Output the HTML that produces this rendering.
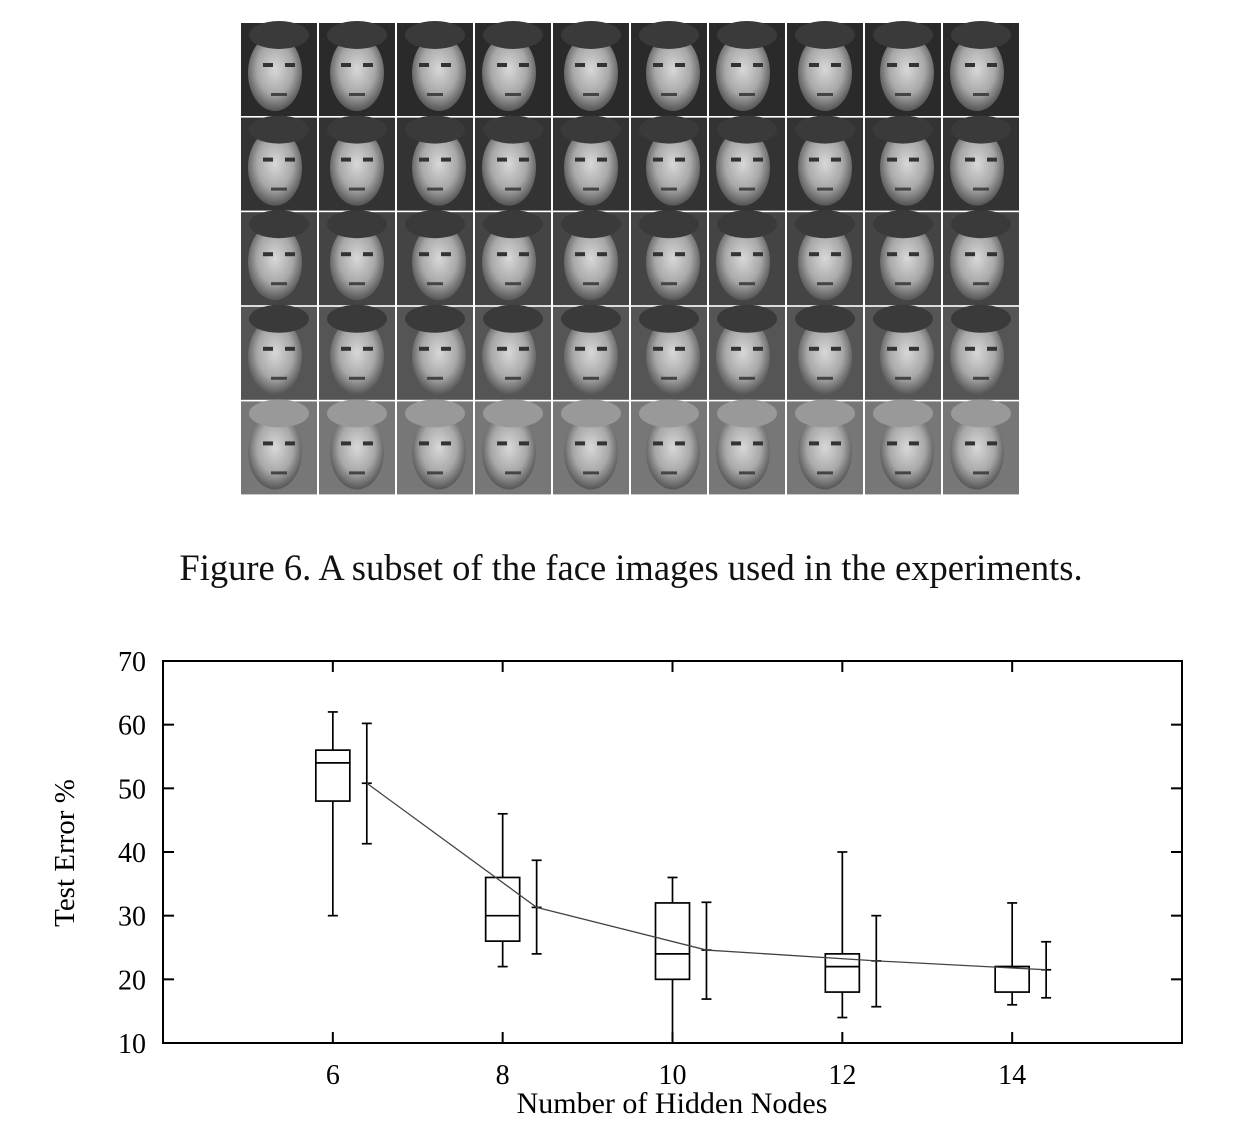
<!DOCTYPE html>
<html><head><meta charset="utf-8"><style>
body{margin:0;background:#fff;width:1241px;height:1142px;overflow:hidden;font-family:"Liberation Serif",serif}
</style></head><body>
<svg width="1241" height="1142" xmlns="http://www.w3.org/2000/svg">
<defs>
<radialGradient id="fg" cx="50%" cy="45%" r="55%"><stop offset="0" stop-color="#d8d8d8"/><stop offset="0.6" stop-color="#a8a8a8"/><stop offset="1" stop-color="#555"/></radialGradient>
</defs>
<g id="faces"></g>
<text x="631" y="580" font-size="36.5" text-anchor="middle" fill="#111">Figure 6.  A subset of the face images used in the experiments.</text>
<g id="chart"></g>
</svg>
<script>
const categories=[6,8,10,12,14];
const whiskerLow=[30,22,10,14,16];
const q1=[48,26,20,18,18];
const medians=[54,30,24,22,22];
const q3=[56,36,32,24,22];
const whiskerHigh=[62,46,36,40,32];
const means=[50.8,31.3,24.6,22.9,21.5];
const errLow=[41.3,24,16.9,15.7,17.1];
const errHigh=[60.2,38.7,32.1,30,25.9];
const yTicks=[10,20,30,40,50,60,70];
const xTicks=[6,8,10,12,14];
const NS='http://www.w3.org/2000/svg';
const X0=163,X1=1182,Y0=1043,Y1=661;
const xs=v=>X0+(v-4)/12*(X1-X0);
const ys=v=>Y0-(v-10)/60*(Y0-Y1);
function mk(p,t,a){const e=document.createElementNS(NS,t);for(const k in a)e.setAttribute(k,a[k]);p.appendChild(e);return e;}
const fg=document.getElementById('faces');
const rowBg=['#2a2a2a','#333','#444','#555','#777'];
for(let r=0;r<5;r++)for(let c=0;c<10;c++){
 const x=241+c*78,y=23+r*94.6;
 const cell=mk(fg,'rect',{x:x,y:y,width:76,height:93,fill:rowBg[r]});
 
 
 const f=mk(fg,'ellipse',{cx:x+38+((c%3)-1)*4,cy:y+50,rx:27,ry:38,fill:'url(#fg)'});
 
 
 mk(fg,'ellipse',{cx:x+38,cy:y+12,rx:30,ry:14,fill:r==4?'#999':'#3a3a3a'});
 mk(fg,'rect',{x:x+22,y:y+40,width:10,height:4,fill:'#333'});
 mk(fg,'rect',{x:x+44,y:y+40,width:10,height:4,fill:'#333'});
 mk(fg,'rect',{x:x+30,y:y+70,width:16,height:3,fill:'#444'});
}
const g=document.getElementById('chart');
const frame=mk(g,'rect',{x:X0,y:Y1,width:X1-X0,height:Y0-Y1,fill:'none',stroke:'#000','stroke-width':2});


yTicks.forEach(v=>{
 const y=ys(v);
 mk(g,'line',{x1:X0,x2:X0+11,y1:y,y2:y,stroke:'#000','stroke-width':2});
 mk(g,'line',{x1:X1-11,x2:X1,y1:y,y2:y,stroke:'#000','stroke-width':2});
 const t=mk(g,'text',{x:146,y:y+10,'font-size':28,'text-anchor':'end'});t.textContent=v;
 
 
});
xTicks.forEach(v=>{
 const x=xs(v);
 mk(g,'line',{x1:x,x2:x,y1:Y0,y2:Y0-11,stroke:'#000','stroke-width':2});
 mk(g,'line',{x1:x,x2:x,y1:Y1,y2:Y1+11,stroke:'#000','stroke-width':2});
 const t=mk(g,'text',{x:x,y:1084,'font-size':28,'text-anchor':'middle'});t.textContent=v;
 
 
});
const yt=mk(g,'text',{x:0,y:0,'font-size':29,'text-anchor':'middle',transform:'translate(74,853) rotate(-90)'});yt.textContent='Test Error %';


const xt=mk(g,'text',{x:672,y:1113,'font-size':30,'text-anchor':'middle'});xt.textContent='Number of Hidden Nodes';


const pts=categories.map((c,i)=>xs(c+0.4)+','+ys(means[i])).join(' ');
const ml=mk(g,'polyline',{points:pts,fill:'none',stroke:'#444','stroke-width':1.3});


categories.forEach((c,i)=>{
 const x=xs(c),bw=17,ex=xs(c+0.4);
 const bg=mk(g,'g',{stroke:'#000','stroke-width':1.7,fill:'none'});
 
 
 mk(bg,'line',{x1:x,x2:x,y1:ys(whiskerLow[i]),y2:ys(q1[i])});
 mk(bg,'line',{x1:x,x2:x,y1:ys(q3[i]),y2:ys(whiskerHigh[i])});
 mk(bg,'line',{x1:x-5,x2:x+5,y1:ys(whiskerLow[i]),y2:ys(whiskerLow[i])});
 mk(bg,'line',{x1:x-5,x2:x+5,y1:ys(whiskerHigh[i]),y2:ys(whiskerHigh[i])});
 mk(bg,'rect',{x:x-bw,y:ys(q3[i]),width:bw*2,height:ys(q1[i])-ys(q3[i]),fill:'#fff'});
 mk(bg,'line',{x1:x-bw,x2:x+bw,y1:ys(medians[i]),y2:ys(medians[i])});
 const eg=mk(g,'g',{stroke:'#000','stroke-width':1.7});
 
 
 mk(eg,'line',{x1:ex,x2:ex,y1:ys(errLow[i]),y2:ys(errHigh[i])});
 mk(eg,'line',{x1:ex-5,x2:ex+5,y1:ys(errLow[i]),y2:ys(errLow[i])});
 mk(eg,'line',{x1:ex-5,x2:ex+5,y1:ys(errHigh[i]),y2:ys(errHigh[i])});
 mk(eg,'line',{x1:ex-5,x2:ex+5,y1:ys(means[i]),y2:ys(means[i])});
});
g.appendChild(ml);
</script>
</body></html>
